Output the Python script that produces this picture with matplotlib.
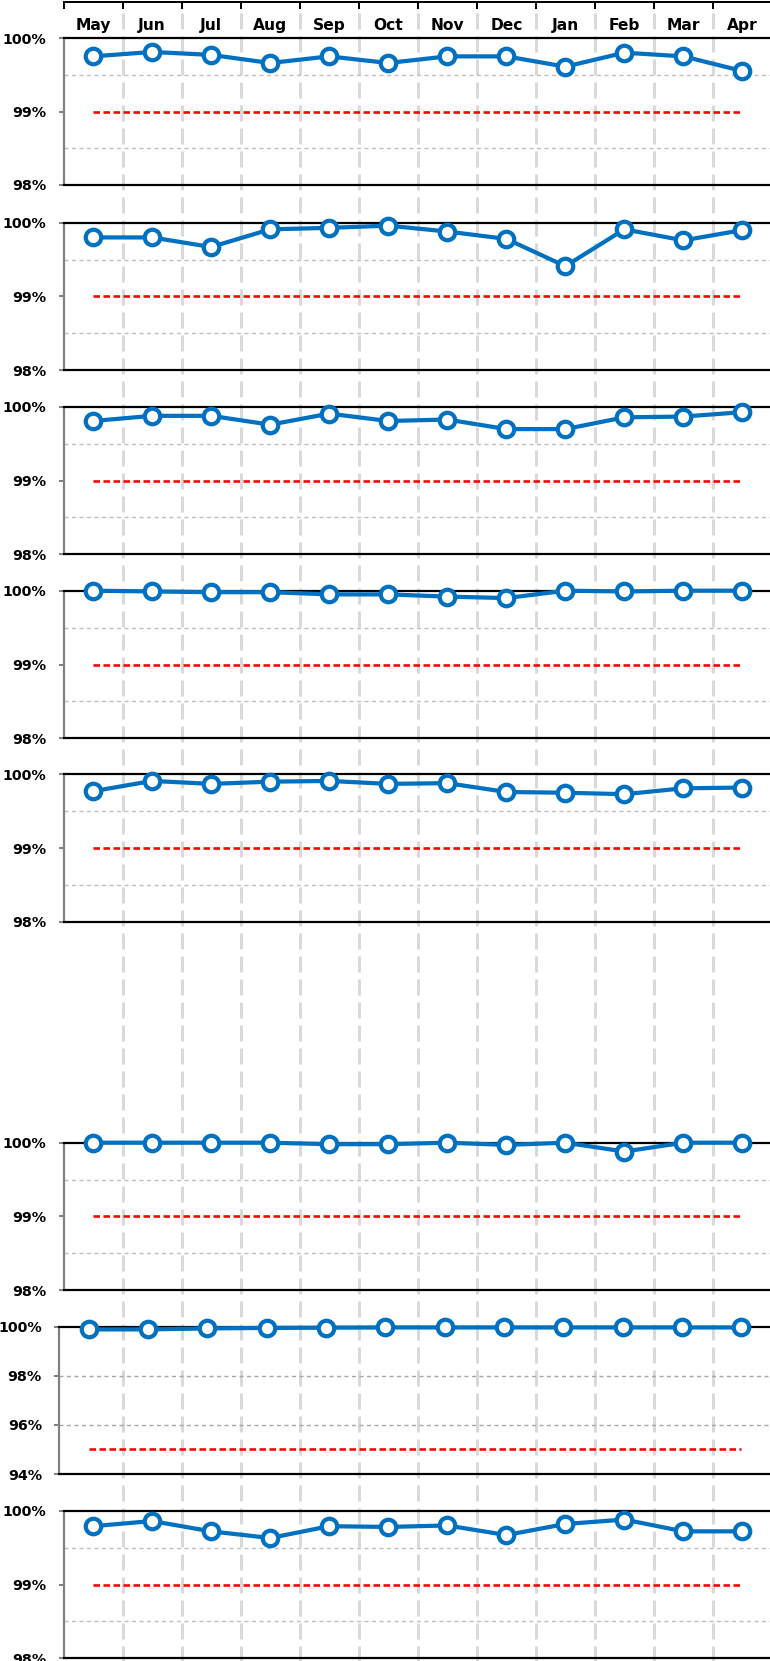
import matplotlib
matplotlib.use("Agg")
import matplotlib.pyplot as plt
import numpy as np

plt.rcParams['lines.scale_dashes'] = False
plt.rcParams['font.family'] = ['DejaVu Sans']

# ---------------- data ----------------
months = ['May', 'Jun', 'Jul', 'Aug', 'Sep', 'Oct', 'Nov', 'Dec', 'Jan', 'Feb', 'Mar', 'Apr']

s1 = [99.75, 99.81, 99.77, 99.66, 99.75, 99.66, 99.75, 99.75, 99.61, 99.80, 99.75, 99.55]
s2 = [99.80, 99.80, 99.67, 99.91, 99.93, 99.96, 99.88, 99.78, 99.41, 99.91, 99.76, 99.90]
s3 = [99.81, 99.88, 99.88, 99.76, 99.91, 99.81, 99.83, 99.70, 99.70, 99.86, 99.87, 99.93]
s4 = [100.0, 99.99, 99.98, 99.98, 99.95, 99.95, 99.92, 99.90, 100.0, 99.99, 100.0, 100.0]
s5 = [99.77, 99.91, 99.87, 99.90, 99.91, 99.87, 99.88, 99.76, 99.75, 99.73, 99.81, 99.82]
s6 = [100.0, 100.0, 100.0, 100.0, 99.98, 99.98, 100.0, 99.97, 100.0, 99.88, 100.0, 100.0]
s7 = [99.89, 99.89, 99.93, 99.95, 99.96, 99.97, 99.97, 99.97, 99.97, 99.97, 99.97, 99.97]
s8 = [99.79, 99.86, 99.72, 99.63, 99.79, 99.78, 99.80, 99.67, 99.82, 99.88, 99.72, 99.72]

series = [s1, s2, s3, s4, s5, s6, s7, s8]
targets = [99, 99, 99, 99, 99, 99, 95, 99]
ylims = [(98, 100)] * 6 + [(94, 100)] + [(98, 100)]
yticks = [[98, 99, 100]] * 6 + [[94, 96, 98, 100]] + [[98, 99, 100]]
minor_grid = [[98.5, 99.5]] * 6 + [[96, 98]] + [[98.5, 99.5]]

# ---------------- layout (pixels) ----------------
W, H = 770, 1661
DPI = 100
tops = [38, 222.7, 407, 590.7, 774.3, 1142.7, 1326.7, 1510.7]
bots = [185, 370, 554.3, 738.3, 921.7, 1290, 1474, 1658.3]
lefts = [63.5] * 6 + [59] + [63.5]
rights = [772] * 6 + [771] + [772]

BLUE = '#0070C0'
px = 72.0 / DPI  # points per pixel
FS_M = 11.2
FS_Y = 10.3

fig = plt.figure(figsize=(W / DPI, H / DPI), dpi=DPI)

# background axes: top month axis + vertical dashed separators
bg = fig.add_axes([63.5 / W, 0, (772 - 63.5) / W, (H - 2) / H])
bg.set_facecolor('none')
bg.set_xlim(-0.5, len(months) - 0.5)
bg.set_ylim(H - 2, 0)
for s in ['left', 'right', 'bottom']:
    bg.spines[s].set_visible(False)
bg.spines['top'].set_color('black')
bg.spines['top'].set_linewidth(2 * px)
bg.xaxis.tick_top()
bg.set_xticks(np.arange(-0.5, len(months) + 0.5, 1.0))
bg.tick_params(axis='x', which='both', direction='in', length=7 * px,
               width=2 * px, color='black', labeltop=False, labelbottom=False)
bg.set_yticks([])
sep = np.arange(0.5, len(months) - 0.5, 1.0)
bg.vlines(sep, 11, H, colors='#D9D9D9', linewidth=3 * px,
          linestyles=(0, (16 * px, 7 * px)))
for i, m in enumerate(months):
    bg.text(i, 23.5, m, ha='center', va='center', fontsize=FS_M,
            fontweight='bold', color='black')

x = np.arange(len(months))
for k, vals in enumerate(series):
    l, r, t, b = lefts[k], rights[k], tops[k], bots[k]
    ax = fig.add_axes([l / W, 1 - b / H, (r - l) / W, (b - t) / H])
    ax.set_facecolor('none')
    ax.set_zorder(2)
    ax.set_xlim(-0.5, len(months) - 0.5)
    ax.set_ylim(*ylims[k])
    ax.set_yticks(yticks[k])
    ax.set_yticklabels([f"{v:.0f}%" for v in yticks[k]], fontsize=FS_Y,
                       fontweight='bold')
    ax.set_xticks([])
    ax.tick_params(axis='y', direction='out', length=5 * px, width=2 * px,
                   color='#808080', pad=12 * px)
    ax.spines['right'].set_visible(False)
    ax.spines['left'].set_color('#808080')
    ax.spines['left'].set_linewidth(2.2 * px)
    for s in ['top', 'bottom']:
        ax.spines[s].set_color('black')
        ax.spines[s].set_linewidth(2.2 * px)
        ax.spines[s].set_zorder(3)
    gcol = '#A6A6A6' if k == 6 else '#BFBFBF'
    for g in minor_grid[k]:
        ax.axhline(g, color=gcol, linewidth=1.4 * px,
                   linestyle=(0, (4 * px, 3.5 * px)), zorder=1)
    ax.plot([x[0], x[-1]], [targets[k], targets[k]], color='#FF0000',
            linewidth=2.6 * px, linestyle=(0, (6.5 * px, 3.5 * px)), zorder=2)
    ax.plot(x, vals, color=BLUE, linewidth=4.2 * px, marker='o',
            markersize=15.5 * px, markerfacecolor='white', markeredgecolor=BLUE,
            markeredgewidth=4.2 * px, clip_on=False, zorder=5)

fig.savefig('out.png', dpi=DPI)
